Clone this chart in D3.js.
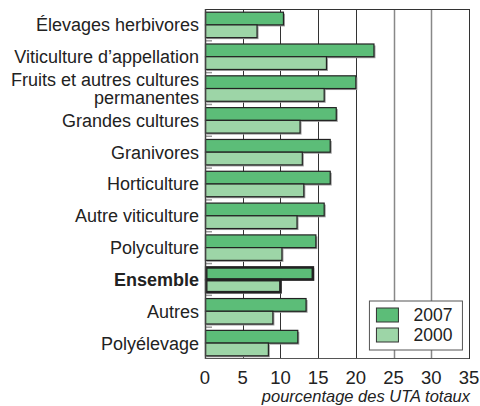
<!DOCTYPE html>
<html lang="fr">
<head>
<meta charset="utf-8">
<title>UTA par orientation</title>
<script src="https://cdn.jsdelivr.net/npm/d3@7"></script>
<style>
  body { margin: 0; background: #fff; }
  svg text { font-family: "Liberation Sans", Arial, sans-serif; fill: #222; }
</style>
</head>
<body>
<div id="chart"></div>
<script>
// categories, top to bottom
var categories = ["Élevages herbivores", "Viticulture d’appellation",
  "Fruits et autres cultures|permanentes", "Grandes cultures", "Granivores",
  "Horticulture", "Autre viticulture", "Polyculture", "Ensemble", "Autres",
  "Polyélevage"];
var values2007 = [10.4, 22.4, 20.0, 17.4, 16.6, 16.6, 15.8, 14.7, 14.3, 13.4, 12.3];
var values2000 = [6.9, 16.1, 15.8, 12.6, 12.9, 13.1, 12.2, 10.2, 10.0, 9.0, 8.4];
var series = ["2007", "2000"];
var xTicks = [0, 5, 10, 15, 20, 25, 30, 35];

var colors = { "2007": "#5cbd78", "2000": "#9dd5a7" };

var margin = {top: 9, right: 11, bottom: 47, left: 205},
    width = 480 - margin.left - margin.right,
    height = 406 - margin.top - margin.bottom;

var svg = d3.select("#chart")
  .append("svg")
    .attr("width", 480)
    .attr("height", 406)
  .append("g")
    .attr("transform", "translate(" + margin.left + "," + margin.top + ")");

var x = d3.scaleLinear().domain([0, 35]).range([0, width]);

var y = d3.scaleBand()
  .domain(categories)
  .range([0, height])
  .paddingInner(0.2)
  .paddingOuter(0.1);

var ySub = d3.scaleBand().domain(series).range([0, y.bandwidth()]);

// grid lines
svg.append("g")
  .selectAll("line")
  .data(xTicks.slice(1))
  .enter()
  .append("line")
    .attr("x1", function(d) { return Math.round(x(d)) + 0.5; })
    .attr("x2", function(d) { return Math.round(x(d)) + 0.5; })
    .attr("y1", 0)
    .attr("y2", height)
    .attr("stroke", function(d) { return (d == 25 || d == 30) ? "#888" : "#333"; })
    .attr("stroke-width", function(d) { return (d == 25 || d == 30) ? 1.5 : 1; });

// top border
svg.append("line")
  .attr("x1", 0).attr("x2", width)
  .attr("y1", 0.5).attr("y2", 0.5)
  .attr("stroke", "#333");

// small separators at left
svg.append("g")
  .selectAll("line")
  .data(categories.slice(1))
  .enter()
  .append("line")
    .attr("x1", 0)
    .attr("x2", 7)
    .attr("y1", function(d) { return y(d) - y.step() * 0.1; })
    .attr("y2", function(d) { return y(d) - y.step() * 0.1; })
    .attr("stroke", "#999")
    .attr("stroke-width", 1.5);

var rows = categories.map(function(c, i) {
  return {cat: c, vals: [{s: "2007", v: values2007[i]}, {s: "2000", v: values2000[i]}]};
});

var group = svg.selectAll(".row")
  .data(rows)
  .enter()
  .append("g")
    .attr("transform", function(d) { return "translate(0," + y(d.cat) + ")"; });

// shadows
group.selectAll(".shadow")
  .data(function(d) { return d.vals; })
  .enter()
  .append("rect")
    .attr("x", 1.5)
    .attr("y", function(d) { return ySub(d.s) + 1.5; })
    .attr("width", function(d) { return x(d.v); })
    .attr("height", ySub.bandwidth())
    .attr("fill", "#999");

group.each(function(row) {
  var ens = row.cat == "Ensemble";
  d3.select(this).selectAll(".bar")
    .data(row.vals)
    .enter()
    .append("rect")
      .attr("x", ens ? 1.2 : 0.5)
      .attr("y", function(d) { return ySub(d.s) + (ens ? 0.7 : 0); })
      .attr("width", function(d) { return x(d.v) - (ens ? 1.2 : 0.5); })
      .attr("height", ySub.bandwidth() - (ens ? 0.7 : 0))
      .attr("fill", function(d) { return colors[d.s]; })
      .attr("stroke", "#222")
      .attr("stroke-width", ens ? 2.6 : 1.2);
});

// left axis line and bottom line
svg.append("line")
  .attr("x1", 0.5).attr("x2", 0.5)
  .attr("y1", 0).attr("y2", height)
  .attr("stroke", "#444").attr("stroke-width", 1.5);
svg.append("line")
  .attr("x1", 0).attr("x2", width)
  .attr("y1", height - 0.5).attr("y2", height - 0.5)
  .attr("stroke", "#555");

// category labels
svg.append("g")
  .selectAll("text")
  .data(categories)
  .enter()
  .append("text")
    .attr("x", -6)
    .attr("y", function(d) { return y(d) + y.bandwidth() / 2; })
    .attr("text-anchor", "end")
    .style("font-size", "18px")
    .style("font-weight", function(d) { return d == "Ensemble" ? "bold" : "normal"; })
    .each(function(d) {
      var lines = d.split("|");
      var t = d3.select(this);
      lines.forEach(function(l, i) {
        t.append("tspan")
          .attr("x", -6)
          .attr("dy", i == 0 ? (0.36 - (lines.length - 1) * 0.52) + "em" : "1.04em")
          .text(l);
      });
    });

// x tick labels
svg.append("g")
  .selectAll("text")
  .data(xTicks)
  .enter()
  .append("text")
    .attr("x", function(d) { return x(d); })
    .attr("y", height + 25)
    .attr("text-anchor", "middle")
    .style("font-size", "18.5px")
    .text(function(d) { return d; });

svg.append("text")
  .attr("x", width + 1)
  .attr("y", height + 43)
  .attr("text-anchor", "end")
  .style("font-size", "16.5px")
  .style("font-style", "italic")
  .text("pourcentage des UTA totaux");

// legend
var legend = svg.append("g")
  .attr("transform", "translate(" + (x(21.8)) + "," + (height - 58) + ")");
legend.append("rect")
  .attr("width", 93).attr("height", 49)
  .attr("fill", "#fff")
  .attr("stroke", "#555");
series.forEach(function(s, i) {
  legend.append("rect")
    .attr("x", 7).attr("y", 7 + i * 20)
    .attr("width", 22).attr("height", 14)
    .attr("fill", colors[s])
    .attr("stroke", "#333");
  legend.append("text")
    .attr("x", 44).attr("y", 14 + i * 20)
    .attr("dy", "0.36em")
    .style("font-size", "17.5px")
    .text(s);
});
</script>
</body>
</html>
